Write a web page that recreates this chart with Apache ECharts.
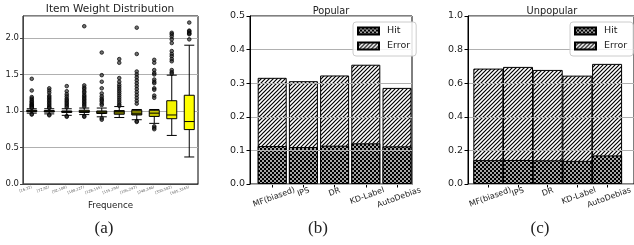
<!DOCTYPE html>
<html>
<head>
<meta charset="utf-8">
<script src="https://cdn.jsdelivr.net/npm/echarts@6/dist/echarts.min.js"></script>
<style>
  html, body { margin: 0; padding: 0; background: #fff; }
  #main { width: 634px; height: 245px; }
</style>
</head>
<body>
<div id="main"></div>
<script>
var dom = document.getElementById('main');
var myChart = echarts.init(dom, null, { renderer: 'canvas' });

// ---- data ----
var freqBins = ['[16,72)', '[72,92)', '[92,108)', '[108,127)', '[128,155)',
                '[155,194)', '[195,247)', '[248,346)', '[350,582)', '[585,3343)'];
// [min, Q1, median, Q3, max]
var boxStats = [
  [0.97, 0.99, 1.0, 1.01, 1.03],
  [0.96, 0.985, 0.995, 1.005, 1.03],
  [0.94, 0.98, 0.99, 1.0, 1.03],
  [0.95, 0.98, 0.99, 1.01, 1.04],
  [0.92, 0.965, 0.985, 1.0, 1.04],
  [0.91, 0.955, 0.99, 1.005, 1.06],
  [0.88, 0.945, 0.96, 1.01, 1.02],
  [0.83, 0.925, 0.97, 1.01, 1.02],
  [0.665, 0.894, 0.945, 1.14, 1.49],
  [0.37, 0.745, 0.855, 1.215, 1.9]
];
var boxOutliers = [
  [1.44, 1.28, 1.19, 1.17, 1.15, 1.13, 1.12, 1.1, 1.09, 1.08, 1.07, 1.06, 1.05, 1.04, 0.96, 0.95],
  [1.31, 1.28, 1.25, 1.21, 1.19, 1.17, 1.15, 1.13, 1.11, 1.09, 1.07, 1.05, 1.04, 0.95, 0.94],
  [1.34, 1.27, 1.23, 1.2, 1.17, 1.15, 1.13, 1.11, 1.09, 1.07, 1.05, 0.93, 0.92],
  [2.16, 1.35, 1.32, 1.3, 1.27, 1.25, 1.22, 1.2, 1.18, 1.16, 1.14, 1.12, 1.1, 1.08, 1.06, 0.93, 0.92],
  [1.8, 1.49, 1.4, 1.31, 1.24, 1.2, 1.17, 1.15, 1.13, 1.1, 1.08, 0.9, 0.88],
  [1.71, 1.66, 1.45, 1.4, 1.36, 1.33, 1.3, 1.27, 1.24, 1.21, 1.18, 1.15, 1.12, 1.09, 1.07],
  [2.14, 1.78, 1.54, 1.5, 1.46, 1.42, 1.38, 1.34, 1.3, 1.26, 1.22, 1.18, 1.14, 1.1, 0.86, 0.85],
  [1.7, 1.66, 1.56, 1.52, 1.5, 1.43, 1.4, 1.38, 1.31, 1.29, 1.21, 1.18, 0.79, 0.77, 0.75],
  [2.07, 2.05, 2.02, 1.98, 1.93, 1.82, 1.78, 1.75, 1.71, 1.68, 1.56, 1.53, 1.51],
  [2.21, 2.1, 2.09, 2.07, 2.06, 2.05, 1.98]
];
var boxColors = ['#3c3c00', '#404000', '#454500', '#6b6b00', '#606000',
                 '#7a7a00', '#808000', '#c8c800', '#f5f500', '#ffff00'];

var methods = ['MF(biased)', 'IPS', 'DR', 'KD-Label', 'AutoDebias'];
// bar heights: hit part and full bar (hit + error)
var popularHit   = [0.113, 0.110, 0.114, 0.121, 0.112];
var popularTotal = [0.316, 0.306, 0.323, 0.355, 0.286];
var unpopularHit   = [0.142, 0.143, 0.141, 0.138, 0.170];
var unpopularTotal = [0.687, 0.697, 0.679, 0.645, 0.715];

// ---- hatch patterns ----
function makeCheck() {
  var c = document.createElement('canvas');
  c.width = 4; c.height = 4;
  var g = c.getContext('2d');
  g.fillStyle = '#fff'; g.fillRect(0, 0, 4, 4);
  g.fillStyle = '#000';
  g.fillRect(0, 0, 2, 2); g.fillRect(2, 2, 2, 2);
  g.fillStyle = 'rgba(0,0,0,0.35)';
  g.fillRect(2, 0, 2, 2); g.fillRect(0, 2, 2, 2);
  return c;
}
function makeStripe() {
  var s = 4;
  var c = document.createElement('canvas');
  c.width = s; c.height = s;
  var g = c.getContext('2d');
  g.fillStyle = '#fff'; g.fillRect(0, 0, s, s);
  g.strokeStyle = '#000'; g.lineWidth = 1.2;
  g.beginPath();
  g.moveTo(0, s); g.lineTo(s, 0);
  g.moveTo(-1, 1); g.lineTo(1, -1);
  g.moveTo(s - 1, s + 1); g.lineTo(s + 1, s - 1);
  g.stroke();
  return c;
}
var hitFill = { image: makeCheck(), repeat: 'repeat' };
var errFill = { image: makeStripe(), repeat: 'repeat' };

var FONT = 'DejaVu Sans';

var boxData = [];
var flierData = [];
for (var i = 0; i < boxStats.length; i++) {
  boxData.push({ value: boxStats[i], itemStyle: { color: boxColors[i] } });
  for (var j = 0; j < boxOutliers[i].length; j++) {
    flierData.push([i, boxOutliers[i][j]]);
  }
}

// rotated method labels: push each one down like matplotlib does (by its rotated half height)
var LBL_SIZE = 8, LBL_ROT = 20;
var measureCtx = document.createElement('canvas').getContext('2d');
measureCtx.font = LBL_SIZE + 'px "' + FONT + '"';
var lblRich = {};
var lblOffsets = [];
var rad = LBL_ROT * Math.PI / 180;
for (var k = 0; k < methods.length; k++) {
  var w = measureCtx.measureText(methods[k]).width;
  lblOffsets.push((w * Math.sin(rad) + LBL_SIZE * 1.1 * Math.cos(rad)) / 2);
}
var minOff = Math.min.apply(null, lblOffsets);
for (var k = 0; k < methods.length; k++) {
  lblRich['m' + k] = {
    fontSize: LBL_SIZE, fontFamily: FONT, color: '#222',
    padding: [2 * (lblOffsets[k] - minOff), 0, 0, 0]
  };
}
var lblMargin = 2 + minOff;

// frame axes (spines, y ticks, grid lines) for the bar panels
function frameXAxis(idx) {
  return {
    type: 'value', gridIndex: idx, min: 0, max: 1,
    axisLine: { show: true, onZero: false, lineStyle: { color: '#000' } },
    axisTick: { show: false }, axisLabel: { show: false }, splitLine: { show: false }
  };
}
function frameYAxis(idx, mx, step) {
  return {
    type: 'value', gridIndex: idx, min: 0, max: mx, interval: step, z: 3,
    axisLine: { show: true, onZero: false, lineStyle: { color: '#000' } },
    axisTick: { show: true, length: 3.5, lineStyle: { color: '#000' } },
    axisLabel: { fontSize: 9.5, fontFamily: FONT, color: '#222', margin: 5,
      formatter: function (v) { return v.toFixed(1); } },
    splitLine: { show: true, lineStyle: { color: '#b0b0b0', width: 1 } }
  };
}
// category axes that carry the bars
function catXAxis(idx) {
  return {
    type: 'category', gridIndex: idx, data: methods, boundaryGap: true,
    axisLine: { show: false },
    axisTick: { show: true, alignWithLabel: true, length: 3.5, lineStyle: { color: '#000' } },
    axisLabel: {
      interval: 0, rotate: LBL_ROT, margin: lblMargin,
      align: 'center', verticalAlign: 'middle',
      formatter: function (v, n) { return '{m' + n + '|' + v + '}'; },
      rich: lblRich
    },
    splitLine: { show: false }
  };
}
function catYAxis(idx, mx) {
  return { type: 'value', gridIndex: idx, min: 0, max: mx, show: false, splitLine: { show: false } };
}
function barLegend(x) {
  return {
    left: x, top: 22, orient: 'vertical',
    data: ['Hit', 'Error'],
    icon: 'rect',
    itemWidth: 21, itemHeight: 7, itemGap: 5,
    padding: [4, 6, 5, 4],
    backgroundColor: 'rgba(255,255,255,0.85)',
    borderColor: '#cccccc', borderWidth: 1, borderRadius: 3,
    textStyle: { fontSize: 9.5, fontFamily: FONT, color: '#222', padding: [0, 0, 0, 3] },
    selectedMode: false, z: 10
  };
}
function barSeries(name, ai, data, fill, w) {
  return {
    name: name, type: 'bar', xAxisIndex: ai, yAxisIndex: ai,
    barWidth: w, barGap: '-100%', data: data,
    itemStyle: { color: fill, borderColor: '#000', borderWidth: 1 },
    animation: false
  };
}

option = {
  backgroundColor: '#fff',
  animation: false,
  grid: [
    { left: 23, top: 16, width: 175, height: 168, show: true, borderColor: '#000', borderWidth: 1, backgroundColor: '#fff' },
    { left: 250, top: 16, width: 162, height: 168, show: true, borderColor: '#000', borderWidth: 1, backgroundColor: '#fff' },
    { left: 468, top: 16, width: 168, height: 168, show: true, borderColor: '#000', borderWidth: 1, backgroundColor: '#fff' },
    { left: 256.6, top: 16, width: 156, height: 168 },
    { left: 473.5, top: 16, width: 157.5, height: 168 }
  ],
  legend: [barLegend(353), barLegend(570)],
  xAxis: [
    {
      type: 'category', gridIndex: 0, data: freqBins, boundaryGap: true,
      name: 'Frequence', nameLocation: 'middle', nameGap: 12,
      nameTextStyle: { fontSize: 8.7, fontFamily: FONT, color: '#222' },
      axisLine: { lineStyle: { color: '#444' } },
      axisTick: { alignWithLabel: true, length: 2, lineStyle: { color: '#444' } },
      axisLabel: { interval: 0, rotate: 20, fontSize: 3.6, fontFamily: FONT, color: '#555', margin: 3 },
      splitLine: { show: false }
    },
    frameXAxis(1),
    frameXAxis(2),
    catXAxis(3),
    catXAxis(4)
  ],
  yAxis: [
    {
      type: 'value', gridIndex: 0, min: 0, max: 2.3, interval: 0.5,
      axisLine: { show: true, lineStyle: { color: '#444' } },
      axisTick: { show: true, length: 3, lineStyle: { color: '#444' } },
      axisLabel: { fontSize: 8.5, fontFamily: FONT, color: '#222', margin: 4, showMaxLabel: false,
        formatter: function (v) { return v.toFixed(1); } },
      splitLine: { show: true, lineStyle: { color: '#b0b0b0', width: 1 } }
    },
    frameYAxis(1, 0.5, 0.1),
    frameYAxis(2, 1.0, 0.2),
    catYAxis(3, 0.5),
    catYAxis(4, 1.0)
  ],
  series: [
    {
      type: 'boxplot', xAxisIndex: 0, yAxisIndex: 0,
      boxWidth: [10, 10], data: boxData,
      itemStyle: { borderColor: '#000', borderWidth: 1 }
    },
    {
      type: 'scatter', xAxisIndex: 0, yAxisIndex: 0, data: flierData,
      symbol: 'circle', symbolSize: 3.6,
      itemStyle: { color: 'rgba(30,30,30,0.8)', borderColor: '#000', borderWidth: 0.9 }
    },
    barSeries('Error', 3, popularTotal, errFill, 29),
    barSeries('Hit', 3, popularHit, hitFill, 29),
    barSeries('Error', 4, unpopularTotal, errFill, 30),
    barSeries('Hit', 4, unpopularHit, hitFill, 30)
  ],
  graphic: [
    { type: 'text', x: 110, y: 9, style: { text: 'Item Weight Distribution', fontSize: 10.5, fontFamily: FONT, fill: '#222', align: 'center', verticalAlign: 'middle' } },
    { type: 'text', x: 331, y: 11, style: { text: 'Popular', fontSize: 9.8, fontFamily: FONT, fill: '#222', align: 'center', verticalAlign: 'middle' } },
    { type: 'text', x: 552, y: 11, style: { text: 'Unpopular', fontSize: 9.8, fontFamily: FONT, fill: '#222', align: 'center', verticalAlign: 'middle' } },
    { type: 'text', x: 104, y: 229, style: { text: '(a)', fontSize: 17, fontFamily: 'Liberation Serif', fill: '#222', align: 'center', verticalAlign: 'middle' } },
    { type: 'text', x: 318, y: 229, style: { text: '(b)', fontSize: 17, fontFamily: 'Liberation Serif', fill: '#222', align: 'center', verticalAlign: 'middle' } },
    { type: 'text', x: 540, y: 229, style: { text: '(c)', fontSize: 17, fontFamily: 'Liberation Serif', fill: '#222', align: 'center', verticalAlign: 'middle' } }
  ]
};

if (option && typeof option === 'object') {
  myChart.setOption(option, true);
}
</script>
</body>
</html>
